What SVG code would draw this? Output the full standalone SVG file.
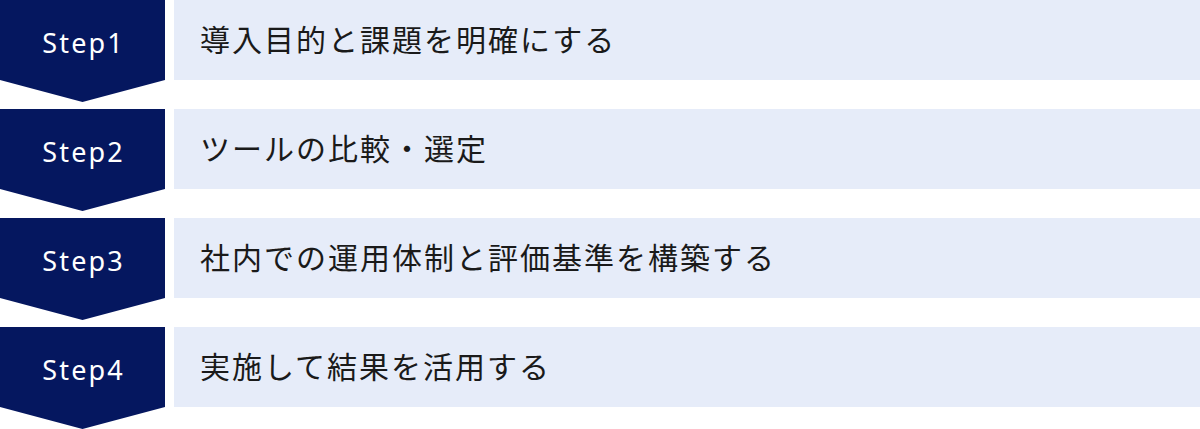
<svg xmlns="http://www.w3.org/2000/svg" width="1200" height="429" viewBox="0 0 1200 429">
<style>
.step{fill:#05175F}
.bar{fill:#E6ECF9}
.lbl{font-family:"Noto Sans","Liberation Sans",sans-serif;font-size:27px;fill:#FFFFFF;letter-spacing:2.2px}
.txt{font-family:"Noto Sans CJK JP","Noto Sans",sans-serif;font-size:30px;fill:#1A1A1A;letter-spacing:2px}
</style>
<defs>
<polygon id="chev" points="0,0 165,0 165,80 82.5,102 0,80"/>
</defs>
<rect width="1200" height="429" fill="#FFFFFF"/>
<g id="connectors"></g>
<g id="step1">
<use href="#chev" class="step"/>
<text class="lbl" x="83.6" y="52.5" text-anchor="middle">Step1</text>
<rect class="bar" x="174" y="0" width="1026" height="80"/>
<text class="txt" x="200" y="51">導入目的と課題を明確にする</text>
</g>
<g id="step2" transform="translate(0,109)">
<use href="#chev" class="step"/>
<text class="lbl" x="83.6" y="52.5" text-anchor="middle">Step2</text>
<rect class="bar" x="174" y="0" width="1026" height="80"/>
<text class="txt" x="200" y="51">ツールの比較・選定</text>
</g>
<g id="step3" transform="translate(0,218)">
<use href="#chev" class="step"/>
<text class="lbl" x="83.6" y="52.5" text-anchor="middle">Step3</text>
<rect class="bar" x="174" y="0" width="1026" height="80"/>
<text class="txt" x="200" y="51">社内での運用体制と評価基準を構築する</text>
</g>
<g id="step4" transform="translate(0,327)">
<use href="#chev" class="step"/>
<text class="lbl" x="83.6" y="52.5" text-anchor="middle">Step4</text>
<rect class="bar" x="174" y="0" width="1026" height="80"/>
<text class="txt" x="200" y="51">実施して結果を活用する</text>
</g>
</svg>
